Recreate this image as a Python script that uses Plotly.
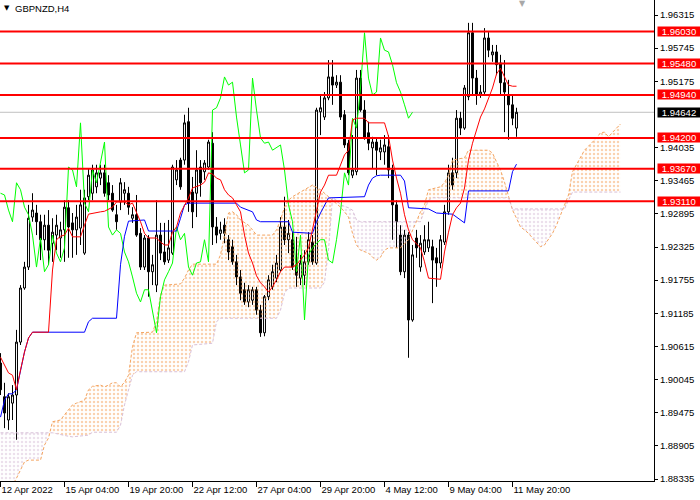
import plotly.graph_objects as go

# GBPNZD H4 candles, bar 0 = 12 Apr 2022 12:00 (4 hours per bar)
opens = [
    1.9033, 1.8975, 1.8935, 1.8964, 1.8978, 1.9069, 1.9162, 1.9198, 1.9284, 1.9291,
    1.9276, 1.9245, 1.9270, 1.9239, 1.9253, 1.9248, 1.9262, 1.9300, 1.9274, 1.9262,
    1.9265, 1.9222, 1.9319, 1.9325, 1.9336, 1.9351, 1.9360, 1.9343, 1.9325, 1.9288,
    1.9310, 1.9325, 1.9325, 1.9282, 1.9288, 1.9256, 1.9198, 1.9248, 1.9190, 1.9167,
    1.9253, 1.9224, 1.9210, 1.9222, 1.9348, 1.9382, 1.9382, 1.9448, 1.9327, 1.9325,
    1.9370, 1.9362, 1.9370, 1.9411, 1.9267, 1.9256, 1.9270, 1.9245, 1.9233, 1.9207,
    1.9181, 1.9159, 1.9138, 1.9141, 1.9159, 1.9124, 1.9085, 1.9147, 1.9164, 1.9179,
    1.9193, 1.9267, 1.9245, 1.9245, 1.9202, 1.9179, 1.9184, 1.9207, 1.9241, 1.9205,
    1.9465, 1.9456, 1.9489, 1.9525, 1.9511, 1.9516, 1.9460, 1.9411, 1.9356, 1.9362,
    1.9523, 1.9468, 1.9429, 1.9403, 1.9413, 1.9396, 1.9396, 1.9405, 1.9365, 1.9305,
    1.9253, 1.9190, 1.9253, 1.9107, 1.9248, 1.9198, 1.9224, 1.9231, 1.9233, 1.9214,
    1.9205, 1.9241, 1.9293, 1.9360, 1.9360, 1.9454, 1.9437, 1.9491, 1.9601, 1.9523,
    1.9494, 1.9499, 1.9592, 1.9563, 1.9568, 1.9549, 1.9515, 1.9494, 1.9477, 1.9437,
]
highs = [
    1.9050, 1.8999, 1.8981, 1.8995, 1.9090, 1.9167, 1.9207, 1.9305, 1.9325, 1.9305,
    1.9288, 1.9288, 1.9296, 1.9282, 1.9288, 1.9276, 1.9313, 1.9313, 1.9291, 1.9305,
    1.9331, 1.9331, 1.9368, 1.9374, 1.9374, 1.9374, 1.9374, 1.9356, 1.9339, 1.9305,
    1.9351, 1.9344, 1.9336, 1.9301, 1.9322, 1.9265, 1.9253, 1.9253, 1.9219, 1.9313,
    1.9274, 1.9274, 1.9279, 1.9374, 1.9382, 1.9386, 1.9460, 1.9472, 1.9353, 1.9399,
    1.9382, 1.9382, 1.9417, 1.9430, 1.9284, 1.9276, 1.9282, 1.9253, 1.9245, 1.9219,
    1.9193, 1.9171, 1.9167, 1.9164, 1.9164, 1.9133, 1.9150, 1.9184, 1.9202, 1.9219,
    1.9284, 1.9319, 1.9279, 1.9258, 1.9250, 1.9219, 1.9227, 1.9258, 1.9253, 1.9472,
    1.9494, 1.9499, 1.9554, 1.9554, 1.9528, 1.9528, 1.9468, 1.9417, 1.9425, 1.9537,
    1.9537, 1.9485, 1.9448, 1.9422, 1.9420, 1.9417, 1.9425, 1.9425, 1.9374, 1.9313,
    1.9270, 1.9262, 1.9258, 1.9236, 1.9262, 1.9253, 1.9270, 1.9276, 1.9245, 1.9231,
    1.9253, 1.9305, 1.9374, 1.9386, 1.9468, 1.9465, 1.9511, 1.9618, 1.9618, 1.9537,
    1.9511, 1.9609, 1.9602, 1.9580, 1.9580, 1.9563, 1.9554, 1.9520, 1.9494, 1.9472,
]
lows = [
    1.8978, 1.8921, 1.8918, 1.8935, 1.8901, 1.9064, 1.9159, 1.9193, 1.9276, 1.9253,
    1.9210, 1.9227, 1.9202, 1.9207, 1.9227, 1.9214, 1.9207, 1.9214, 1.9214, 1.9219,
    1.9236, 1.9219, 1.9313, 1.9313, 1.9325, 1.9339, 1.9319, 1.9313, 1.9293, 1.9262,
    1.9296, 1.9305, 1.9288, 1.9274, 1.9250, 1.9193, 1.9193, 1.9147, 1.9167, 1.9155,
    1.9210, 1.9202, 1.9205, 1.9219, 1.9339, 1.9331, 1.9374, 1.9293, 1.9265, 1.9284,
    1.9319, 1.9348, 1.9365, 1.9236, 1.9239, 1.9245, 1.9239, 1.9210, 1.9202, 1.9167,
    1.9141, 1.9133, 1.9129, 1.9133, 1.9116, 1.9078, 1.9079, 1.9141, 1.9159, 1.9172,
    1.9190, 1.9236, 1.9222, 1.9193, 1.9164, 1.9167, 1.9167, 1.9202, 1.9202, 1.9202,
    1.9425, 1.9451, 1.9485, 1.9477, 1.9506, 1.9451, 1.9403, 1.9356, 1.9351, 1.9356,
    1.9465, 1.9417, 1.9399, 1.9368, 1.9356, 1.9382, 1.9374, 1.9351, 1.9245, 1.9231,
    1.9184, 1.9179, 1.9042, 1.9104, 1.9214, 1.9190, 1.9219, 1.9224, 1.9136, 1.9164,
    1.9196, 1.9236, 1.9288, 1.9331, 1.9351, 1.9425, 1.9434, 1.9485, 1.9494, 1.9477,
    1.9489, 1.9494, 1.9559, 1.9551, 1.9528, 1.9494, 1.9430, 1.9417, 1.9442, 1.9422,
]
closes = [
    1.8987, 1.8947, 1.8975, 1.8978, 1.9069, 1.9162, 1.9198, 1.9282, 1.9296, 1.9276,
    1.9245, 1.9270, 1.9227, 1.9258, 1.9270, 1.9262, 1.9301, 1.9267, 1.9262, 1.9284,
    1.9305, 1.9317, 1.9356, 1.9365, 1.9360, 1.9360, 1.9325, 1.9322, 1.9296, 1.9276,
    1.9343, 1.9331, 1.9301, 1.9288, 1.9253, 1.9198, 1.9248, 1.9190, 1.9202, 1.9253,
    1.9222, 1.9207, 1.9231, 1.9370, 1.9365, 1.9336, 1.9446, 1.9308, 1.9293, 1.9365,
    1.9343, 1.9377, 1.9413, 1.9267, 1.9253, 1.9262, 1.9256, 1.9224, 1.9207, 1.9181,
    1.9153, 1.9138, 1.9159, 1.9159, 1.9124, 1.9085, 1.9147, 1.9176, 1.9190, 1.9205,
    1.9267, 1.9245, 1.9256, 1.9198, 1.9184, 1.9205, 1.9207, 1.9245, 1.9207, 1.9468,
    1.9472, 1.9489, 1.9525, 1.9511, 1.9516, 1.9456, 1.9408, 1.9360, 1.9365, 1.9523,
    1.9468, 1.9420, 1.9411, 1.9413, 1.9399, 1.9403, 1.9408, 1.9365, 1.9305, 1.9276,
    1.9190, 1.9253, 1.9107, 1.9219, 1.9231, 1.9239, 1.9245, 1.9245, 1.9210, 1.9205,
    1.9245, 1.9293, 1.9360, 1.9339, 1.9454, 1.9437, 1.9506, 1.9601, 1.9523, 1.9494,
    1.9499, 1.9592, 1.9571, 1.9568, 1.9546, 1.9515, 1.9499, 1.9477, 1.9454, 1.94642,
]

# Ichimoku lines, read as (bar, price) corners
tenkan_bars = [0, 1, 2, 3, 4, 5, 6, 7, 8,
               12, 13, 14, 15, 16, 17, 18, 20, 21, 22, 25, 26, 28, 29,
               31, 32, 33, 34, 35, 36, 37, 39, 40, 41, 42, 43, 44, 45, 46, 47, 48,
               50, 51, 52, 53, 54, 55, 56, 57, 58, 59, 60, 61, 62, 63, 64, 65, 66, 67, 68, 69, 70, 71,
               73, 74, 75, 76, 77, 78, 79, 80, 81, 82, 84, 85, 86, 87, 88, 89, 91, 92,
               96, 97, 98, 99, 100, 101, 102, 103, 104, 105, 106, 107,
               110, 111, 112, 113, 114, 115, 116, 117, 118, 119, 120, 121, 122, 123, 124, 125, 126, 127, 128, 129]
tenkan_vals = [1.9043, 1.9030, 1.9016, 1.9012, 1.8987, 1.9021, 1.9052, 1.9076, 1.9086,
               1.9086, 1.9193, 1.9245, 1.9251, 1.9253, 1.9265, 1.9250, 1.9250, 1.9270, 1.9289, 1.9293, 1.9294, 1.9301, 1.9310,
               1.9310, 1.9305, 1.9308, 1.9293, 1.9276, 1.9256, 1.9248, 1.9248, 1.9241, 1.9236, 1.9236, 1.9258, 1.9267, 1.9291, 1.9305, 1.9317, 1.9334,
               1.9339, 1.9344, 1.9360, 1.9358, 1.9351, 1.9348, 1.9331, 1.9322, 1.9317, 1.9305, 1.9293, 1.9253, 1.9222, 1.9205, 1.9183, 1.9171, 1.9164, 1.9155, 1.9164, 1.9176, 1.9190, 1.9198,
               1.9198, 1.9202, 1.9210, 1.9219, 1.9231, 1.9262, 1.9296, 1.9327, 1.9339, 1.9356, 1.9356, 1.9374, 1.9391, 1.9399, 1.9451, 1.9454, 1.9454, 1.9446,
               1.9446, 1.9423, 1.9382, 1.9351, 1.9325, 1.9288, 1.9262, 1.9245, 1.9238, 1.9231, 1.9207, 1.9179,
               1.9177, 1.9224, 1.9258, 1.9288, 1.9300, 1.9308, 1.9334, 1.9382, 1.9411, 1.9434, 1.9456, 1.9470, 1.9489, 1.9506, 1.9530, 1.9540, 1.9525, 1.9511, 1.9509, 1.9509]

kijun_bars = [0, 1, 2, 3, 4, 5, 6, 7, 8, 21, 22, 23, 29, 30, 31, 32, 36, 37, 44, 45, 46, 47,
              59, 60, 63, 64, 65, 72, 73, 78, 79, 80, 81, 82, 91, 92, 93, 94, 95,
              100, 101, 102, 107, 109, 113, 114, 116, 117, 127, 128, 129]
kijun_vals = [1.8940, 1.8969, 1.8980, 1.8980, 1.8987, 1.9021, 1.9052, 1.9076, 1.9086, 1.9086, 1.9104, 1.9110,
              1.9110, 1.9202, 1.9251, 1.9277, 1.9279, 1.9260, 1.9260, 1.9282, 1.9305, 1.9308,
              1.9308, 1.9301, 1.9293, 1.9279, 1.9276, 1.9276, 1.9258, 1.9256, 1.9276, 1.9291, 1.9305, 1.9317,
              1.9319, 1.9339, 1.9351, 1.9355, 1.9356, 1.9356, 1.9346, 1.9300, 1.9298, 1.9291,
              1.9289, 1.9284, 1.9274, 1.9329, 1.9329, 1.9362, 1.9375]

span_a_bars = [0, 3, 4, 5, 6, 7, 10, 11, 12, 13, 15, 16, 17, 18, 19, 20, 21, 22, 23, 25,
               26, 27, 28, 29, 30, 31, 32, 33, 34, 38, 39, 40, 41, 45, 46, 47, 48, 54, 55, 56,
               57, 58, 59, 60, 61, 62, 63, 64, 68, 69, 70, 71, 72, 73, 76, 78, 80, 81, 82, 83,
               85, 86, 87, 88, 89, 90, 92, 93, 94, 95, 96, 97, 100, 102, 104, 105, 106, 107, 110, 111,
               112, 113, 116, 117, 122, 123, 124, 125, 126, 127, 128, 129, 130, 131, 132, 133, 135, 136, 137, 138,
               139, 140, 141, 142, 143, 144, 145, 146, 147, 148, 149, 150, 151, 152, 153, 154, 155]
span_a_vals = [1.8823, 1.8823, 1.8835, 1.8849, 1.8863, 1.8866, 1.8866, 1.8892, 1.8904, 1.8932, 1.8935, 1.8944, 1.8952, 1.8961, 1.8964, 1.8966, 1.8969, 1.8987, 1.8993, 1.8995,
               1.8992, 1.8995, 1.8999, 1.8999, 1.8992, 1.9000, 1.9012, 1.9061, 1.9085, 1.9086, 1.9104, 1.9150, 1.9167, 1.9169, 1.9179, 1.9193, 1.9203, 1.9203, 1.9219, 1.9253,
               1.9291, 1.9293, 1.9288, 1.9279, 1.9274, 1.9270, 1.9262, 1.9253, 1.9253, 1.9262, 1.9279, 1.9301, 1.9313, 1.9319, 1.9331, 1.9339, 1.9331, 1.9325, 1.9319, 1.9312,
               1.9301, 1.9293, 1.9284, 1.9256, 1.9236, 1.9227, 1.9222, 1.9215, 1.9210, 1.9215, 1.9227, 1.9231, 1.9231, 1.9245, 1.9276, 1.9293, 1.9305, 1.9331, 1.9336, 1.9343,
               1.9356, 1.9382, 1.9386, 1.9399, 1.9399, 1.9394, 1.9379, 1.9365, 1.9344, 1.9322, 1.9296, 1.9282, 1.9267, 1.9262, 1.9256, 1.9248, 1.9233, 1.9236, 1.9245, 1.9256,
               1.9270, 1.9288, 1.9305, 1.9322, 1.9362, 1.9374, 1.9387, 1.9399, 1.9406, 1.9413, 1.9420, 1.9429, 1.9430, 1.9422, 1.9430, 1.9437, 1.9444]

span_b_bars = [0, 12, 13, 17, 18, 22, 23, 29, 30, 31, 32, 33, 34, 46, 47, 48, 53, 54, 55, 69,
               70, 71, 72, 80, 81, 82, 83, 84, 85, 87, 88, 89, 90, 104, 105, 106, 107, 108, 127, 128,
               141, 142, 143, 155]
span_b_vals = [1.8913, 1.8913, 1.8913, 1.8907, 1.8906, 1.8909, 1.8914, 1.8914, 1.8926, 1.8961, 1.8987, 1.9012, 1.9018, 1.9018, 1.9035, 1.9064, 1.9067, 1.9104, 1.9110, 1.9110,
               1.9124, 1.9153, 1.9162, 1.9162, 1.9172, 1.9227, 1.9317, 1.9313, 1.9305, 1.9300, 1.9296, 1.9279, 1.9276, 1.9276, 1.9276, 1.9296, 1.9313, 1.9317, 1.9317, 1.9298,
               1.9298, 1.9313, 1.9327, 1.9327]

# cloud pieces: (first bar, last bar, colour)
kumo_pieces = [(0, 12, "#D8BFD8"), (12, 83, "#F4A460"), (83, 104, "#D8BFD8"),
               (104, 128, "#F4A460"), (128, 141, "#D8BFD8"), (141, 155, "#F4A460")]

levels = [1.9603, 1.9548, 1.9494, 1.9420, 1.9367, 1.9311]
bid = 1.94642

y_ticks = [1.96315, 1.95745, 1.95175, 1.94035, 1.93465, 1.92895, 1.92325,
           1.91755, 1.91185, 1.90615, 1.90045, 1.89475, 1.88905, 1.88335]
x_tick_bars = [0, 16, 32, 48, 64, 80, 96, 112, 128]
x_tick_labels = ["12 Apr 2022", "15 Apr 04:00", "19 Apr 20:00", "22 Apr 12:00", "27 Apr 04:00",
                 "29 Apr 20:00", "4 May 12:00", "9 May 04:00", "11 May 20:00"]

FONT = "Liberation Sans, Arial, sans-serif"
bars = list(range(len(closes)))

fig = go.Figure()

fig.add_trace(go.Candlestick(
    x=bars, open=opens, high=highs, low=lows, close=closes,
    increasing=dict(line=dict(color="black", width=1), fillcolor="white"),
    decreasing=dict(line=dict(color="black", width=1), fillcolor="black"),
    whiskerwidth=0, hoverinfo="skip",
))

# hatched cloud between span A and span B (dot grid reads like the dashed hatch)
for a, b, col in kumo_pieces:
    ax = [k for k in span_a_bars if a <= k <= b]
    ay = [v for k, v in zip(span_a_bars, span_a_vals) if a <= k <= b]
    bx = [k for k in span_b_bars if a <= k <= b]
    by = [v for k, v in zip(span_b_bars, span_b_vals) if a <= k <= b]
    fig.add_trace(go.Scatter(x=ax, y=ay, mode="lines", line=dict(width=0), hoverinfo="skip"))
    fig.add_trace(go.Scatter(
        x=bx, y=by, mode="lines", line=dict(width=0), hoverinfo="skip",
        fill="tonexty", fillcolor="rgba(0,0,0,0)",
        fillpattern=dict(shape=".", fgcolor=col, bgcolor="rgba(0,0,0,0)", size=4, solidity=0.3),
    ))

fig.add_trace(go.Scatter(x=span_a_bars, y=span_a_vals, mode="lines",
                         line=dict(color="#F4A460", width=1, dash="3px,2px"), hoverinfo="skip"))
fig.add_trace(go.Scatter(x=span_b_bars, y=span_b_vals, mode="lines",
                         line=dict(color="#D8BFD8", width=1, dash="3px,2px"), hoverinfo="skip"))

# chikou span = close shifted 26 bars back
fig.add_trace(go.Scatter(x=[k - 26 for k in bars[26:]], y=closes[26:], mode="lines",
                         line=dict(color="#00FF00", width=1), hoverinfo="skip"))
fig.add_trace(go.Scatter(x=kijun_bars, y=kijun_vals, mode="lines",
                         line=dict(color="#0000FF", width=1), hoverinfo="skip"))
fig.add_trace(go.Scatter(x=tenkan_bars, y=tenkan_vals, mode="lines",
                         line=dict(color="#FF0000", width=1), hoverinfo="skip"))

# bid line
fig.add_shape(type="line", xref="paper", x0=0, x1=1, y0=bid, y1=bid,
              line=dict(color="#C0C0C0", width=1), layer="below")

for lv in levels:
    fig.add_shape(type="line", xref="paper", x0=0, x1=1, y0=lv, y1=lv,
                  line=dict(color="#FF0000", width=2))
    fig.add_annotation(xref="paper", x=1, xanchor="left", xshift=3, y=lv, yanchor="middle",
                       text=f"{lv:.5f}", showarrow=False, bgcolor="#FF0000", width=42, height=9,
                       borderpad=0, font=dict(family=FONT, size=9.5, color="white"))

fig.add_annotation(xref="paper", x=1, xanchor="left", xshift=3, y=bid, yanchor="middle",
                   text=f"{bid:.5f}", showarrow=False, bgcolor="black", width=42, height=9,
                   borderpad=0, font=dict(family=FONT, size=9.5, color="white"))

# symbol caption
fig.add_annotation(xref="paper", yref="paper", x=0, y=1, xanchor="left", yanchor="top",
                   xshift=2, yshift=-2, text="▼", showarrow=False,
                   font=dict(family="DejaVu Sans", size=7, color="black"))
fig.add_annotation(xref="paper", yref="paper", x=0, y=1, xanchor="left", yanchor="top",
                   xshift=13, yshift=-1, text="GBPNZD,H4", showarrow=False,
                   font=dict(family=FONT, size=9.5, color="black"))
# chart shift marker
fig.add_annotation(xref="paper", yref="paper", x=522 / 654, y=1, xanchor="center", yanchor="top",
                   yshift=3, text="▼", showarrow=False,
                   font=dict(family="DejaVu Sans", size=8, color="#A8A8A8"))

fig.update_layout(
    width=700, height=500,
    margin=dict(l=0, r=46, t=0, b=19),
    paper_bgcolor="white", plot_bgcolor="white",
    showlegend=False,
    font=dict(family=FONT, size=9.5, color="black"),
    xaxis=dict(range=[-0.125, 163.375], rangeslider=dict(visible=False),
               showgrid=False, zeroline=False,
               tickmode="array", tickvals=x_tick_bars, ticktext=x_tick_labels,
               ticks="outside", ticklen=5, tickcolor="black",
               ticklabelposition="outside right",
               showline=True, linecolor="black", linewidth=1),
    yaxis=dict(range=[1.88301, 1.96573], side="right",
               showgrid=False, zeroline=False,
               tickmode="array", tickvals=y_ticks, ticktext=[f"{v:.5f}" for v in y_ticks],
               ticks="outside", ticklen=3, tickcolor="black",
               showline=True, linecolor="black", linewidth=1),
)

# the page is exactly the chart size, so drop the default body margin
fig.write_html("out.html", config={"displayModeBar": False},
               post_script="document.body.style.margin='0';")
